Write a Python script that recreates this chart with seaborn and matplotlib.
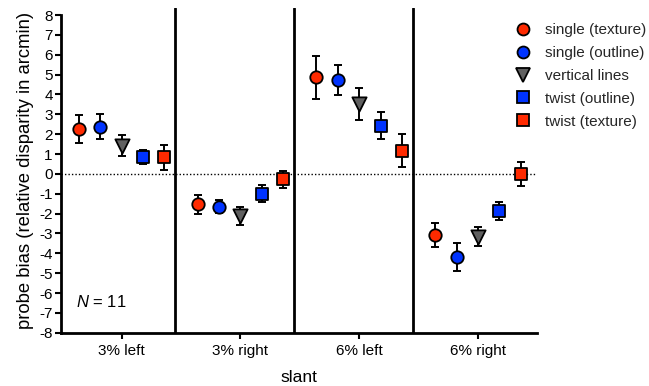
import numpy as np
import pandas as pd
import matplotlib
matplotlib.use("Agg")
import matplotlib.pyplot as plt
from matplotlib.lines import Line2D
import seaborn as sns

categories = ["3% left", "3% right", "6% left", "6% right"]
series = ["single (texture)", "single (outline)", "vertical lines", "twist (outline)", "twist (texture)"]
single_texture = [2.28, -1.53, 4.86, -3.06]
single_texture_err = [0.70, 0.47, 1.07, 0.60]
single_outline = [2.38, -1.65, 4.73, -4.18]
single_outline_err = [0.63, 0.32, 0.77, 0.72]
vertical_lines = [1.42, -2.10, 3.52, -3.16]
vertical_lines_err = [0.52, 0.45, 0.80, 0.47]
twist_outline = [0.84, -1.01, 2.43, -1.87]
twist_outline_err = [0.35, 0.43, 0.69, 0.43]
twist_texture = [0.85, -0.27, 1.17, 0.01]
twist_texture_err = [0.63, 0.43, 0.82, 0.60]

values = [single_texture, single_outline, vertical_lines, twist_outline, twist_texture]
errors = [single_texture_err, single_outline_err, vertical_lines_err, twist_outline_err, twist_texture_err]
colors = ["#FF2A00", "#0033FF", "#606060", "#0033FF", "#FF2A00"]
markers = ["o", "o", "v", "s", "s"]
msizes = [80, 80, 105, 75, 75]
offsets = [-0.36, -0.18, 0.0, 0.18, 0.36]

rows = []
for s, vals, errs, off in zip(series, values, errors, offsets):
    for i, (c, v, e) in enumerate(zip(categories, vals, errs)):
        rows.append(dict(series=s, slant=c, pos=i + off, bias=v, err=e))
df = pd.DataFrame(rows)

sns.set_theme(style="ticks")
plt.rcParams["font.family"] = ["Liberation Sans", "DejaVu Sans"]
plt.rcParams["mathtext.fontset"] = "custom"
plt.rcParams["mathtext.it"] = "Liberation Sans:italic"
plt.rcParams["mathtext.rm"] = "Liberation Sans"

fig = plt.figure(figsize=(6.49, 3.86), dpi=100)
ax = fig.add_axes([0.094, 0.138, 0.734, 0.8405])

ax.axhline(0, color="black", ls=(0, (1, 1.5)), lw=1.0, zorder=1)
for i in range(len(categories) - 1):
    ax.axvline(i + 0.45, color="black", lw=2.0, zorder=1)

for s, col, mk, ms in zip(series, colors, markers, msizes):
    d = df[df.series == s]
    ax.errorbar(d.pos, d.bias, yerr=d.err, fmt="none", ecolor="black",
                elinewidth=1.4, capsize=3, capthick=1.4, zorder=2)
    sns.scatterplot(data=d, x="pos", y="bias", marker=mk, color=col, s=ms,
                    edgecolor="black", linewidth=1.3, ax=ax, zorder=3, legend=False)

ax.set_xlim(-0.51, 3.5)
ax.set_ylim(-8, 8.34)
ax.set_xticks(range(len(categories)))
ax.set_xticklabels(categories)
yt = list(range(-8, 9))
ax.set_yticks(yt)
ax.set_yticklabels([str(t) for t in yt])
sns.despine(ax=ax)
ax.spines["left"].set_bounds(-8, 8)
for sp in ["left", "bottom"]:
    ax.spines[sp].set_linewidth(2.0)
    ax.spines[sp].set_color("black")
ax.tick_params(axis="both", colors="black", labelsize=11, width=1.5, length=4, pad=2)
ax.tick_params(axis="x", pad=4)
ax.set_xlabel("slant", fontsize=12.5, color="black", labelpad=9)
ax.set_ylabel("probe bias (relative disparity in arcmin)", fontsize=13.3, color="black", labelpad=4)

ax.text(-0.38, -6.43, "$N$ = 11", fontsize=12, va="center", ha="left", color="black")

handles = [Line2D([], [], ls="none", marker=mk, markerfacecolor=col, markeredgecolor="black",
                  markeredgewidth=1.3, markersize=(8.6 if mk != "v" else 10.2))
           for col, mk in zip(colors, markers)]
fig.legend(handles, series, loc="upper left", bbox_to_anchor=(0.789, 0.940),
           frameon=False, fontsize=11.0, handletextpad=0.74, labelspacing=0.58,
           handlelength=1.4, borderaxespad=0, borderpad=0)

fig.savefig("out.png", dpi=100)
